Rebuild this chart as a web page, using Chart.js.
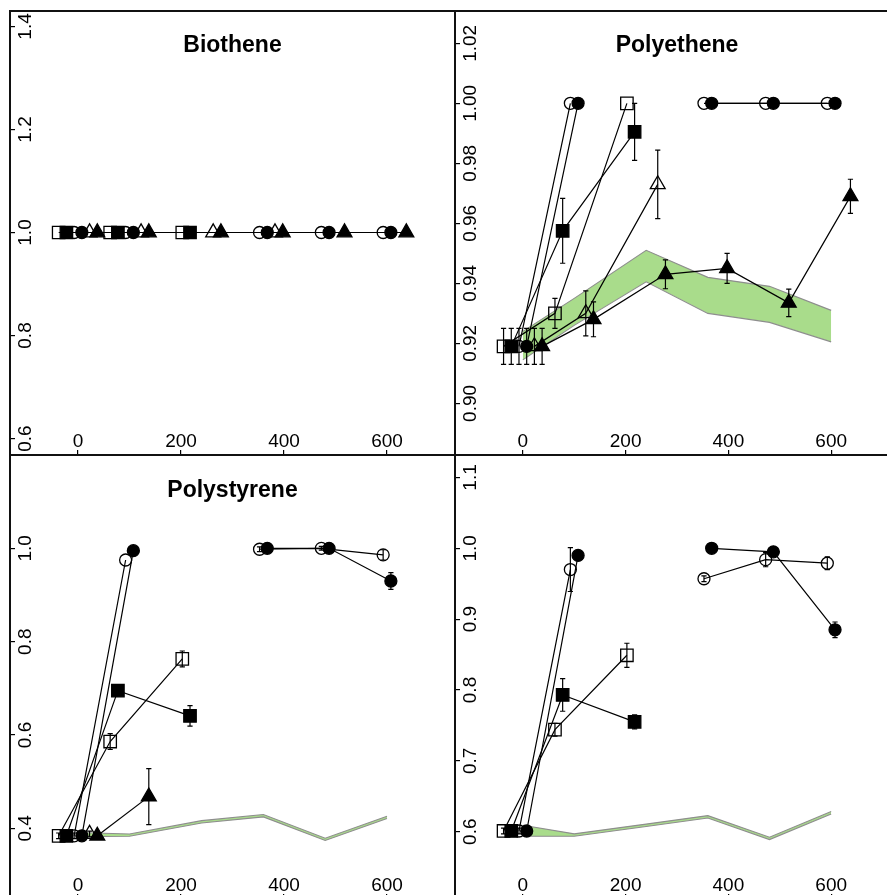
<!DOCTYPE html>
<html>
<head>
<meta charset="utf-8">
<title>Relative value over time by material</title>
<script src="https://cdn.jsdelivr.net/npm/chart.js@4.4.1/dist/chart.umd.min.js"></script>
<style>
  html, body { margin: 0; padding: 0; background: #fff; }
  body { width: 887px; height: 895px; overflow: hidden; position: relative;
         font-family: 'Liberation Sans', Arial, Helvetica, sans-serif; }
  .panel { position: absolute; }
  .panel canvas { position: absolute; left: 0; top: 0; }
  .title { position: absolute; left: 0; width: 100%; text-align: center; font-weight: bold;
           font-size: 23px; line-height: 23px; color: #000; pointer-events: none; }
  .rule { position: absolute; background: #111; z-index: 5; }
</style>
</head>
<body>
<div class="rule" style="left:9px;top:10px;width:878px;height:2px"></div>
<div class="rule" style="left:9px;top:454px;width:878px;height:2px"></div>
<div class="rule" style="left:9px;top:10px;width:2px;height:885px"></div>
<div class="rule" style="left:454px;top:10px;width:2px;height:885px"></div>

<script>
// ---- shared axes ----
const timePoints  = [0, 100, 240, 360, 480, 600];
const xTickLabels = ['0', '200', '400', '600'];

// ---- Biothene ----
const bioYTicks        = ['0.6', '0.8', '1.0', '1.2', '1.4'];
const bioOpenSquare    = [1.0, 1.0, 1.0, null, null, null];
const bioFilledSquare  = [1.0, 1.0, 1.0, null, null, null];
const bioOpenCircle    = [1.0, 1.0, null, 1.0, 1.0, 1.0];
const bioFilledCircle  = [1.0, 1.0, null, 1.0, 1.0, 1.0];
const bioOpenTriangle  = [1.0, 1.0, 1.0, 1.0, null, null];
const bioFilledTriangle = [1.0, 1.0, 1.0, 1.0, 1.0, 1.0];

// ---- Polyethene ----
const peYTicks            = ['0.90', '0.92', '0.94', '0.96', '0.98', '1.00', '1.02'];
const peOpenSquare        = [0.919, 0.930, 1.000, null, null, null];
const peOpenSquareErr     = [0.006, 0.005, 0, 0, 0, 0];
const peFilledSquare      = [0.919, 0.9575, 0.9905, null, null, null];
const peFilledSquareErr   = [0.006, 0.0108, 0.0095, 0, 0, 0];
const peOpenCircle        = [0.919, 1.000, null, 1.000, 1.000, 1.000];
const peOpenCircleErr     = [0.006, 0, 0, 0, 0, 0];
const peFilledCircle      = [0.919, 1.000, null, 1.000, 1.000, 1.000];
const peFilledCircleErr   = [0.006, 0, 0, 0, 0, 0];
const peOpenTriangle      = [0.919, 0.930, 0.973, null, null, null];
const peOpenTriangleErr   = [0.006, 0.0075, 0.0114, 0, 0, 0];
const peFilledTriangle    = [0.919, 0.928, 0.943, 0.945, 0.9335, 0.969];
const peFilledTriangleErr = [0.006, 0.0058, 0.0048, 0.005, 0.0046, 0.0057];
const peBandUpper         = [0.924, 0.935, 0.951, 0.942, 0.939, 0.931];
const peBandLower         = [0.9145, 0.926, 0.9405, 0.930, 0.927, 0.9205];

// ---- Polystyrene ----
const psYTicks            = ['0.4', '0.6', '0.8', '1.0'];
const psOpenSquare        = [0.384, 0.586, 0.763, null, null, null];
const psOpenSquareErr     = [0.006, 0.017, 0.017, 0, 0, 0];
const psFilledSquare      = [0.384, 0.695, 0.641, null, null, null];
const psFilledSquareErr   = [0.006, 0.010, 0.022, 0, 0, 0];
const psOpenCircle        = [0.384, 0.975, null, 0.998, 1.000, 0.986];
const psOpenCircleErr     = [0.006, 0, 0, 0.005, 0.004, 0.011];
const psFilledCircle      = [0.384, 0.995, null, 1.000, 1.000, 0.930];
const psFilledCircleErr   = [0.006, 0, 0, 0, 0, 0.018];
const psOpenTriangle      = [0.388, null, null, null, null, null];
const psOpenTriangleErr   = [0.006, 0, 0, 0, 0, 0];
const psFilledTriangle    = [0.384, 0.468, null, null, null, null];
const psFilledTriangleErr = [0.004, 0.060, 0, 0, 0, 0];
const psBandUpper         = [0.391, 0.3880, 0.4165, 0.4295, 0.3790, 0.4260];
const psBandLower         = [0.382, 0.3830, 0.4115, 0.4245, 0.3740, 0.4210];

// ---- fourth material (untitled panel) ----
const p4YTicks            = ['0.6', '0.7', '0.8', '0.9', '1.0', '1.1'];
const p4OpenSquare        = [0.601, 0.744, 0.849, null, null, null];
const p4OpenSquareErr     = [0.004, 0.009, 0.017, 0, 0, 0];
const p4FilledSquare      = [0.601, 0.793, 0.755, null, null, null];
const p4FilledSquareErr   = [0.004, 0.023, 0.010, 0, 0, 0];
const p4OpenCircle        = [0.601, 0.970, null, 0.957, 0.984, 0.979];
const p4OpenCircleErr     = [0.004, 0.031, 0, 0.004, 0.010, 0.009];
const p4FilledCircle      = [0.601, 0.990, null, 1.000, 0.995, 0.885];
const p4FilledCircleErr   = [0.004, 0, 0, 0, 0, 0.011];
const p4BandUpper         = [0.6090, 0.5970, 0.6107, 0.6227, 0.5923, 0.6284];
const p4BandLower         = [0.5935, 0.5935, 0.6073, 0.6193, 0.5889, 0.6250];

// ---- styling ----
const FONT = "'Liberation Sans', Arial, Helvetica, sans-serif";
const TICK_SIZE = 19;
const LABEL_CENTER = 16;      // distance of rotated y labels from the axis line
const BAND_FILL = '#a9dc8b';
const BAND_EDGE = '#8e8e8e';

const markerStyles = {
  openSquare:     { shape: 'rect',     filled: false, dodge: -37.5, radius: 8.8 },
  filledSquare:   { shape: 'rect',     filled: true,  dodge: -22.5, radius: 8.8 },
  openCircle:     { shape: 'circle',   filled: false, dodge: -7.5,  radius: 6.0 },
  filledCircle:   { shape: 'circle',   filled: true,  dodge: 7.5,   radius: 6.0 },
  openTriangle:   { shape: 'triangle', filled: false, dodge: 22.5,  radius: 8.6 },
  filledTriangle: { shape: 'triangle', filled: true,  dodge: 37.5,  radius: 8.6 }
};
const kindOrder = Object.keys(markerStyles);

const panels = [
  { id: 'bio', title: 'Biothene', left: 10, top: 10, width: 445, height: 445,
    yMin: 0.568, yMax: 1.432, yTicks: bioYTicks,
    series: [['openSquare', bioOpenSquare], ['filledSquare', bioFilledSquare],
             ['openCircle', bioOpenCircle], ['filledCircle', bioFilledCircle],
             ['openTriangle', bioOpenTriangle], ['filledTriangle', bioFilledTriangle]],
    band: null },
  { id: 'pe', title: 'Polyethene', left: 455, top: 10, width: 444, height: 445,
    yMin: 0.8828, yMax: 1.0311, yTicks: peYTicks,
    series: [['openSquare', peOpenSquare, peOpenSquareErr], ['filledSquare', peFilledSquare, peFilledSquareErr],
             ['openCircle', peOpenCircle, peOpenCircleErr], ['filledCircle', peFilledCircle, peFilledCircleErr],
             ['openTriangle', peOpenTriangle, peOpenTriangleErr], ['filledTriangle', peFilledTriangle, peFilledTriangleErr]],
    band: [peBandUpper, peBandLower] },
  { id: 'ps', title: 'Polystyrene', left: 10, top: 455, width: 445, height: 444,
    yMin: 0.2486, yMax: 1.2, yTicks: psYTicks,
    series: [['openSquare', psOpenSquare, psOpenSquareErr], ['filledSquare', psFilledSquare, psFilledSquareErr],
             ['openCircle', psOpenCircle, psOpenCircleErr], ['filledCircle', psFilledCircle, psFilledCircleErr],
             ['openTriangle', psOpenTriangle, psOpenTriangleErr], ['filledTriangle', psFilledTriangle, psFilledTriangleErr]],
    band: [psBandUpper, psBandLower] },
  { id: 'p4', title: '', left: 455, top: 455, width: 444, height: 444,
    yMin: 0.505, yMax: 1.1317, yTicks: p4YTicks,
    series: [['openSquare', p4OpenSquare, p4OpenSquareErr], ['filledSquare', p4FilledSquare, p4FilledSquareErr],
             ['openCircle', p4OpenCircle, p4OpenCircleErr], ['filledCircle', p4FilledCircle, p4FilledCircleErr]],
    band: [p4BandUpper, p4BandLower] }
];

// Vertical error bars with short caps, positioned through the chart's scales.
const errorBarPlugin = {
  id: 'errorBars',
  afterDatasetsDraw(chart) {
    const { ctx, chartArea, scales: { x, y } } = chart;
    ctx.save();
    ctx.beginPath();
    ctx.rect(chartArea.left, chartArea.top, chartArea.right - chartArea.left, chartArea.bottom - chartArea.top);
    ctx.clip();
    ctx.strokeStyle = '#000';
    ctx.lineWidth = 1.2;
    chart.data.datasets.forEach(ds => {
      if (!ds.errors) return;
      ds.data.forEach((p, i) => {
        const e = ds.errors[i];
        if (p.y == null || !e) return;
        const px = x.getPixelForValue(p.x);
        const hi = y.getPixelForValue(p.y + e);
        const lo = y.getPixelForValue(p.y - e);
        ctx.beginPath();
        ctx.moveTo(px, hi); ctx.lineTo(px, lo);
        ctx.moveTo(px - 2.6, hi); ctx.lineTo(px + 2.6, hi);
        ctx.moveTo(px - 2.6, lo); ctx.lineTo(px + 2.6, lo);
        ctx.stroke();
      });
    });
    ctx.restore();
  }
};

const measureCtx = document.createElement('canvas').getContext('2d');
function yLabelPadding(labels) {
  measureCtx.font = `${TICK_SIZE}px ${FONT}`;
  const widest = Math.max(...labels.map(t => measureCtx.measureText(t).width));
  return LABEL_CENTER - widest / 2;
}

function seriesDataset(kind, values, errors) {
  const st = markerStyles[kind];
  const idx = kindOrder.indexOf(kind);
  return {
    data: values.map((v, i) => ({ x: timePoints[i] + st.dodge, y: v })),
    errors: errors || null,
    borderColor: '#000',
    borderWidth: 1.2,
    pointStyle: st.shape,
    pointRadius: st.radius,
    pointBorderColor: '#000',
    pointBorderWidth: 1.3,
    pointBackgroundColor: st.filled ? '#000' : 'rgba(0,0,0,0)',
    fill: false,
    spanGaps: false,
    tension: 0,
    order: 10 - idx
  };
}

function bandDatasets(upper, lower) {
  const toPts = arr => arr.map((v, i) => ({ x: timePoints[i], y: v }));
  return [
    { data: toPts(upper), borderColor: BAND_EDGE, borderWidth: 1.1, pointRadius: 0,
      backgroundColor: BAND_FILL, fill: '+1', tension: 0, order: 101 },
    { data: toPts(lower), borderColor: BAND_EDGE, borderWidth: 1.1, pointRadius: 0,
      fill: false, tension: 0, order: 100 }
  ];
}

function zeroFit(scale, horizontal) {
  if (horizontal) scale.height = 0; else scale.width = 0;
  scale.paddingLeft = scale.paddingRight = scale.paddingTop = scale.paddingBottom = 0;
}

panels.forEach(p => {
  const wrap = document.createElement('div');
  wrap.className = 'panel';
  Object.assign(wrap.style, { left: p.left + 'px', top: p.top + 'px', width: p.width + 'px', height: p.height + 'px' });
  const canvas = document.createElement('canvas');
  canvas.width = p.width; canvas.height = p.height;
  canvas.style.width = p.width + 'px'; canvas.style.height = p.height + 'px';
  wrap.appendChild(canvas);
  if (p.title) {
    const t = document.createElement('div');
    t.className = 'title';
    t.style.top = '23px';
    t.textContent = p.title;
    wrap.appendChild(t);
  }
  document.body.appendChild(wrap);

  const datasets = p.series.map(s => seriesDataset(s[0], s[1], s[2]));
  if (p.band) datasets.push(...bandDatasets(p.band[0], p.band[1]));

  new Chart(canvas, {
    type: 'line',
    data: { datasets },
    options: {
      responsive: false,
      maintainAspectRatio: false,
      devicePixelRatio: 1,
      animation: false,
      events: [],
      layout: { padding: 0, autoPadding: false },
      plugins: { legend: { display: false }, tooltip: { enabled: false }, title: { display: false } },
      scales: {
        x: {
          type: 'linear', position: 'bottom', min: -132, max: 732,
          afterBuildTicks: s => { s.ticks = xTickLabels.map(t => ({ value: Number(t) })); },
          afterFit: s => zeroFit(s, true),
          grid: { drawOnChartArea: false, drawTicks: true, tickLength: -5, color: '#000', lineWidth: 1.2 },
          border: { display: false },
          ticks: { mirror: true, padding: 1.4, color: '#000', autoSkip: false, maxRotation: 0, minRotation: 0,
                   font: { family: FONT, size: TICK_SIZE, lineHeight: 1.2 },
                   callback: (v, i) => xTickLabels[i] }
        },
        y: {
          type: 'linear', position: 'left', min: p.yMin, max: p.yMax,
          afterBuildTicks: s => { s.ticks = p.yTicks.map(t => ({ value: Number(t) })); },
          afterFit: s => zeroFit(s, false),
          grid: { drawOnChartArea: false, drawTicks: true, tickLength: -5, color: '#000', lineWidth: 1.2 },
          border: { display: false },
          ticks: { mirror: true, crossAlign: 'center', padding: yLabelPadding(p.yTicks),
                   minRotation: 90, maxRotation: 90, autoSkip: false, color: '#000',
                   font: { family: FONT, size: TICK_SIZE, lineHeight: 1.2 },
                   callback: (v, i) => p.yTicks[i] }
        }
      }
    },
    plugins: [errorBarPlugin]
  });
});
</script>
</body>
</html>
